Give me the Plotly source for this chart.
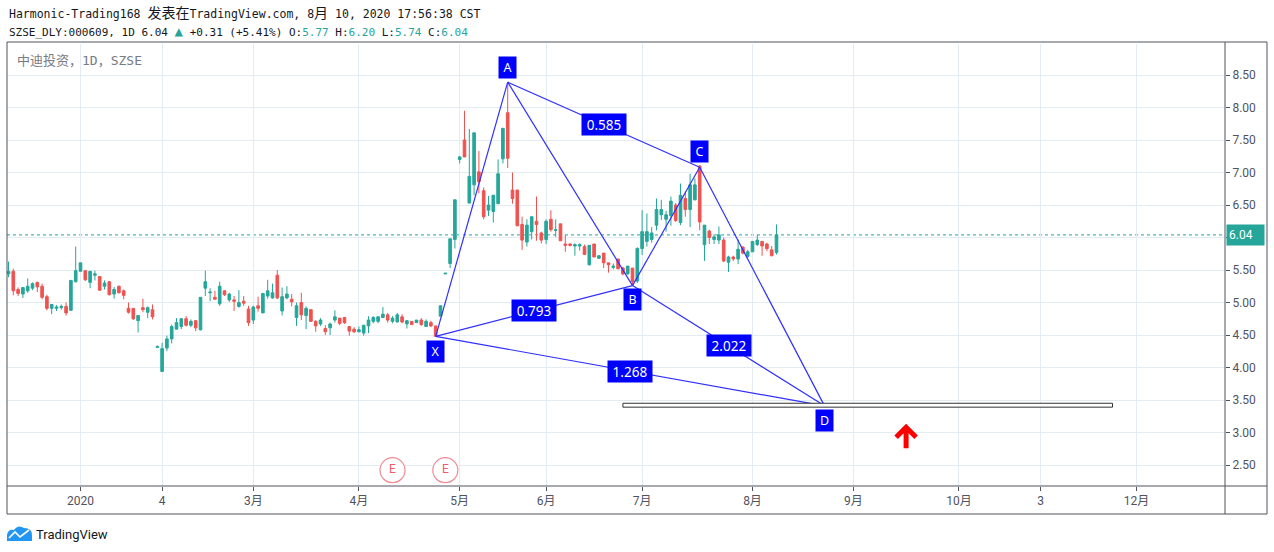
import plotly.graph_objects as go

# ---------------- data (bar index: 0 = first trading day of 2020) ----------------
bar_index = list(range(-15, 146))

opens = [5.44, 5.48, 5.20, 5.13, 5.18, 5.22, 5.31, 5.25, 5.09, 4.91, 4.91, 4.92, 4.94, 4.88, 5.32,
         5.48, 5.49, 5.31, 5.42, 5.40, 5.25, 5.32, 5.13, 5.25, 5.18, 4.91, 4.91, 4.72, 4.92, 4.85,
         4.89, 4.31, 3.94, 4.30, 4.44, 4.59, 4.63, 4.75, 4.65, 4.72, 4.58, 5.22, 5.15, 5.08, 4.98,
         5.18, 5.04, 5.04, 4.94, 5.02, 4.90, 4.73, 4.95, 4.84, 5.10, 5.07, 5.42, 4.87, 5.07, 5.05,
         4.77, 5.00, 4.80, 4.89, 4.71, 4.67, 4.60, 4.61, 4.73, 4.76, 4.77, 4.63, 4.59, 4.55, 4.53,
         4.64, 4.71, 4.71, 4.77, 4.81, 4.71, 4.70, 4.78, 4.67, 4.71, 4.69, 4.73, 4.63, 4.69, 4.64,
         4.79, 5.44, 5.60, 5.97, 7.20, 7.50, 6.53, 6.81, 7.01, 6.72, 6.42, 6.40, 6.52, 7.21, 7.92,
         6.73, 6.73, 6.20, 5.93, 6.09, 6.25, 6.07, 5.97, 6.28, 6.11, 6.21, 5.90, 5.90, 5.87, 5.87,
         5.86, 5.58, 5.90, 5.68, 5.76, 5.61, 5.54, 5.67, 5.53, 5.44, 5.53, 5.33, 5.83, 5.94, 5.97,
         6.19, 6.35, 6.28, 6.34, 6.50, 6.23, 6.60, 6.43, 6.58, 7.10, 5.89, 6.10, 5.97, 5.96, 5.96,
         5.62, 5.70, 5.67, 5.85, 5.71, 5.78, 5.89, 5.94, 5.90, 5.81, 5.77]
highs = [5.63, 5.52, 5.23, 5.23, 5.37, 5.31, 5.32, 5.29, 5.12, 4.97, 4.96, 4.97, 5.00, 5.34, 5.86,
         5.61, 5.49, 5.48, 5.49, 5.40, 5.34, 5.32, 5.24, 5.26, 5.20, 5.00, 4.91, 4.80, 5.06, 4.94,
         4.97, 4.34, 4.38, 4.49, 4.66, 4.76, 4.76, 4.79, 4.74, 4.73, 5.08, 5.49, 5.22, 5.18, 5.32,
         5.19, 5.15, 5.10, 5.19, 5.10, 4.95, 4.95, 5.09, 5.14, 5.35, 5.29, 5.50, 5.23, 5.25, 5.13,
         5.00, 5.15, 4.94, 4.89, 4.73, 4.76, 4.65, 4.69, 4.88, 4.76, 4.77, 4.64, 4.62, 4.63, 4.65,
         4.79, 4.79, 4.79, 4.93, 4.84, 4.79, 4.84, 4.82, 4.73, 4.71, 4.73, 4.76, 4.74, 4.72, 4.64,
         4.95, 5.45, 5.98, 6.58, 7.25, 7.95, 7.67, 7.61, 7.33, 6.77, 6.64, 6.65, 7.20, 7.68, 8.37,
         7.00, 6.73, 6.32, 6.28, 6.32, 6.63, 6.09, 6.28, 6.42, 6.28, 6.21, 6.04, 5.91, 5.91, 5.91,
         5.89, 5.88, 5.90, 5.73, 5.76, 5.61, 5.60, 5.67, 5.55, 5.56, 5.53, 5.85, 6.42, 6.37, 6.16,
         6.60, 6.58, 6.41, 6.63, 6.53, 6.83, 6.71, 6.98, 6.91, 7.11, 6.19, 6.12, 6.05, 6.17, 6.00,
         5.72, 5.72, 5.97, 5.87, 5.81, 5.94, 6.04, 5.94, 5.92, 5.87, 6.20]
lows = [5.39, 5.11, 5.10, 5.07, 5.15, 5.19, 5.16, 5.05, 4.88, 4.82, 4.87, 4.89, 4.80, 4.88, 5.31,
        5.48, 5.33, 5.22, 5.34, 5.18, 5.20, 5.11, 5.06, 5.14, 5.05, 4.83, 4.73, 4.54, 4.85, 4.76,
        4.74, 4.31, 3.94, 4.25, 4.37, 4.59, 4.59, 4.63, 4.62, 4.56, 4.57, 5.10, 5.02, 5.05, 4.95,
        5.10, 5.01, 4.87, 4.92, 4.95, 4.64, 4.67, 4.86, 4.84, 5.06, 5.06, 5.05, 4.80, 5.05, 4.94,
        4.64, 4.73, 4.59, 4.71, 4.55, 4.64, 4.50, 4.50, 4.69, 4.65, 4.67, 4.49, 4.53, 4.54, 4.49,
        4.53, 4.68, 4.68, 4.76, 4.69, 4.68, 4.70, 4.68, 4.60, 4.66, 4.69, 4.64, 4.63, 4.62, 4.47,
        4.79, 5.44, 5.53, 5.83, 7.14, 7.24, 6.53, 6.65, 6.68, 6.28, 6.33, 6.23, 6.52, 7.14, 7.07,
        6.52, 6.18, 5.81, 5.86, 5.97, 5.95, 5.91, 5.90, 6.09, 6.01, 5.95, 5.78, 5.86, 5.72, 5.80,
        5.73, 5.57, 5.70, 5.67, 5.53, 5.46, 5.51, 5.51, 5.42, 5.43, 5.27, 5.30, 5.73, 5.86, 5.92,
        6.11, 6.27, 6.09, 6.18, 6.24, 6.19, 6.32, 6.16, 6.57, 6.11, 5.64, 5.90, 5.90, 5.90, 5.62,
        5.47, 5.64, 5.59, 5.74, 5.68, 5.78, 5.87, 5.72, 5.79, 5.71, 5.74]
closes = [5.48, 5.18, 5.14, 5.23, 5.25, 5.29, 5.24, 5.08, 4.91, 4.97, 4.93, 4.94, 4.84, 5.34, 5.49,
          5.61, 5.35, 5.48, 5.44, 5.19, 5.30, 5.12, 5.20, 5.15, 5.11, 4.85, 4.75, 4.80, 4.89, 4.92,
          4.78, 4.32, 4.29, 4.44, 4.63, 4.69, 4.75, 4.65, 4.71, 4.61, 5.08, 5.32, 5.16, 5.05, 5.25,
          5.12, 5.13, 5.02, 5.00, 4.99, 4.69, 4.93, 4.91, 5.14, 5.18, 5.15, 5.07, 5.09, 5.13, 5.01,
          4.95, 4.81, 4.91, 4.71, 4.64, 4.73, 4.55, 4.67, 4.78, 4.68, 4.69, 4.56, 4.55, 4.58, 4.65,
          4.73, 4.77, 4.78, 4.82, 4.73, 4.76, 4.81, 4.70, 4.72, 4.66, 4.73, 4.66, 4.71, 4.64, 4.48,
          4.95, 5.45, 5.98, 6.58, 7.24, 7.24, 6.94, 7.61, 6.86, 6.32, 6.50, 6.65, 6.98, 7.68, 7.22,
          6.60, 6.18, 5.96, 6.19, 6.32, 6.20, 5.96, 6.25, 6.12, 6.12, 5.95, 5.88, 5.88, 5.89, 5.89,
          5.74, 5.88, 5.70, 5.72, 5.61, 5.58, 5.56, 5.52, 5.44, 5.56, 5.32, 5.83, 6.09, 6.09, 6.07,
          6.43, 6.43, 6.35, 6.56, 6.26, 6.65, 6.43, 6.81, 6.81, 6.24, 6.19, 6.00, 6.01, 6.04, 5.64,
          5.70, 5.67, 5.82, 5.76, 5.78, 5.94, 5.96, 5.87, 5.83, 5.72, 6.04]

last_price = 6.04

# axis ticks
x_tick_pos = [0, 17, 36, 58, 79, 97, 117, 140, 161, 183, 200, 220]
x_tick_text = ["2020", "4", "3月", "4月", "5月", "6月", "7月", "8月", "9月", "10月", "3", "12月"]
y_tick_vals = [2.5, 3.0, 3.5, 4.0, 4.5, 5.0, 5.5, 6.0, 6.5, 7.0, 7.5, 8.0, 8.5]

# harmonic pattern XABCD
pat_names = ["X", "A", "B", "C", "D"]
pat_idx = [74, 89, 115, 129, 155]
pat_price = [4.48, 8.39, 5.26, 7.08, 3.41]
pat_label_shift = [-15, 15, -14, 16, -15]
ratio_pairs = [("A", "C"), ("X", "B"), ("B", "D"), ("X", "D")]
ratio_values = ["0.585", "0.793", "2.022", "1.268"]

# target zone and signal
zone_start, zone_end = 113, 215
zone_low, zone_high = 3.39, 3.45
arrow_idx, arrow_price = 172, 3.08

# earnings markers
earn_idx = [65, 76]
earn_price = [2.42, 2.42]

# ---------------- figure ----------------
TEAL = "#26a69a"
RED = "#ef5350"
BLUE_LINE = "#3030ff"
BLUE_BOX = "#0000ff"
GRID = "#e3ecf3"
AXIS = "#50535e"

W, H = 1274, 552
ML, MR, MT, MB = 7, 49, 44, 66
PW, PH = W - ML - MR, H - MT - MB
BAR_PX, Y_PX = 4.8, 65.0   # pixel size of one bar / one price unit (for drawing offsets)


def px(x):
    return (x - ML) / PW


def py(y):
    return (H - MB - y) / PH


fig = go.Figure()

fig.add_trace(go.Candlestick(
    x=bar_index, open=opens, high=highs, low=lows, close=closes,
    increasing=dict(line=dict(color=TEAL, width=1), fillcolor=TEAL),
    decreasing=dict(line=dict(color=RED, width=1), fillcolor=RED),
    whiskerwidth=0, showlegend=False, hoverinfo="skip",
))

# pattern lines
pt = dict(zip(pat_names, zip(pat_idx, pat_price)))
seg_pairs = [("X", "A"), ("A", "B"), ("B", "C"), ("C", "D"),
             ("X", "B"), ("A", "C"), ("B", "D"), ("X", "D")]
lx, ly = [], []
for a, b in seg_pairs:
    lx += [pt[a][0], pt[b][0], None]
    ly += [pt[a][1], pt[b][1], None]
fig.add_trace(go.Scatter(x=lx, y=ly, mode="lines",
                         line=dict(color=BLUE_LINE, width=1.2),
                         showlegend=False, hoverinfo="skip"))

# earnings markers
fig.add_trace(go.Scatter(x=earn_idx, y=earn_price, mode="markers+text",
                         text=["E"] * len(earn_idx), textposition="middle center",
                         textfont=dict(color="#ef5a66", size=12, family="Roboto"),
                         marker=dict(symbol="circle", size=25, color="rgba(255,255,255,1)",
                                     line=dict(color="#f08a94", width=1.2)),
                         showlegend=False, hoverinfo="skip"))

shapes = []
# target zone rectangle
shapes.append(dict(type="rect", xref="x", yref="y", x0=zone_start, x1=zone_end,
                   y0=zone_low, y1=zone_high, line=dict(color="#333333", width=1),
                   fillcolor="white", layer="above"))
# red up arrow (chevron + stem) anchored at its tip
ax_, ay_ = arrow_idx, arrow_price
adx, ady, astem = 10 / BAR_PX, 10 / Y_PX, 21 / Y_PX
arrow_path = (f"M {ax_ - adx},{ay_ - ady} L {ax_},{ay_} L {ax_ + adx},{ay_ - ady} "
              f"M {ax_},{ay_ - 0.02} L {ax_},{ay_ - astem}")
shapes.append(dict(type="path", xref="x", yref="y", path=arrow_path,
                   line=dict(color="#ff0000", width=5), layer="above"))
# last price dotted line
shapes.append(dict(type="line", xref="paper", yref="y", x0=0, x1=1, y0=last_price, y1=last_price,
                   line=dict(color=TEAL, width=1, dash="dot"), layer="below"))
# chart frame
frame_right = px(1267)
frame_bottom = py(514)
frame_top = py(42)
shapes.append(dict(type="rect", xref="paper", yref="paper", x0=0, x1=frame_right,
                   y0=frame_bottom, y1=frame_top, line=dict(color=AXIS, width=1)))
shapes.append(dict(type="line", xref="paper", yref="paper", x0=1, x1=1,
                   y0=frame_bottom, y1=frame_top, line=dict(color=AXIS, width=1)))
shapes.append(dict(type="line", xref="paper", yref="paper", x0=0, x1=frame_right,
                   y0=0, y1=0, line=dict(color=AXIS, width=1)))
# TradingView logo icon (decorative cloud)
cloud = (f"M {px(7)},{py(541)} L {px(7)},{py(535)} Q {px(8)},{py(529)} {px(14)},{py(530)} "
         f"Q {px(18)},{py(524)} {px(24)},{py(528)} Q {px(32)},{py(528)} {px(32)},{py(535)} "
         f"L {px(32)},{py(541)} Z")
shapes.append(dict(type="path", xref="paper", yref="paper", path=cloud,
                   fillcolor="#2196f3", line=dict(width=0)))
zig = f"M {px(9)},{py(538)} L {px(15)},{py(532)} L {px(20)},{py(537)} L {px(29)},{py(530)}"
shapes.append(dict(type="path", xref="paper", yref="paper", path=zig,
                   line=dict(color="white", width=1.6)))

annotations = []
# point labels
for name, xi, yi, sh in zip(pat_names, pat_idx, pat_price, pat_label_shift):
    annotations.append(dict(x=xi, y=yi, xref="x", yref="y", text=name, showarrow=False,
                            yshift=sh, bgcolor=BLUE_BOX, font=dict(color="white", size=12.5, family="Noto Sans"),
                            width=14, height=18, borderpad=1.5, align="center"))
# ratio labels at segment midpoints
for (a, b), val in zip(ratio_pairs, ratio_values):
    mx = (pt[a][0] + pt[b][0]) / 2
    my = (pt[a][1] + pt[b][1]) / 2
    annotations.append(dict(x=mx, y=my, xref="x", yref="y", text=val, showarrow=False,
                            bgcolor=BLUE_BOX, font=dict(color="white", size=13.5, family="Noto Sans"),
                            width=41, height=18, borderpad=1.5, align="center"))
# last price tag (covers the 6.00 label as in the reference)
annotations.append(dict(x=1, y=last_price, xref="paper", yref="y", xanchor="left",
                        text="6.04", showarrow=False, bgcolor=TEAL, xshift=1,
                        font=dict(color="white", size=12, family="Roboto"),
                        width=33, height=16, borderpad=2, align="left"))
# header
mono = "DejaVu Sans Mono, Noto Sans CJK SC"
cjk = lambda s: f"<span style='font-size:14px'>{s}</span>"
annotations.append(dict(x=0, y=py(13), xref="paper", yref="paper", xanchor="left", yanchor="middle",
                        text=("Harmonic-Trading168 " + cjk("发表在") + "TradingView.com, 8" + cjk("月")
                              + " 10, 2020 17:56:38 CST"),
                        showarrow=False, font=dict(color="#131722", size=11.5, family=mono)))
v = lambda s: f"<span style='color:{TEAL}'>{s}</span>"
annotations.append(dict(x=0, y=py(31), xref="paper", yref="paper", xanchor="left", yanchor="middle",
                        text=("SZSE_DLY:000609, 1D 6.04 " + v("<span style='font-size:14px'>▲</span>")
                              + " +0.31 (+5.41%) O:" + v("5.77")
                              + " H:" + v("6.20") + " L:" + v("5.74") + " C:" + v("6.04")),
                        showarrow=False, font=dict(color="#131722", size=11, family=mono)))
annotations.append(dict(x=px(15), y=py(61), xref="paper", yref="paper", xanchor="left", yanchor="middle",
                        text="中迪投资，1D，SZSE", showarrow=False,
                        font=dict(color="#787b86", size=13, family=mono)))
annotations.append(dict(x=px(34), y=py(534), xref="paper", yref="paper", xanchor="left", yanchor="middle",
                        text="TradingView", showarrow=False,
                        font=dict(color="#131722", size=13, family="Roboto")))

fig.update_layout(
    width=W, height=H,
    margin=dict(l=ML, r=MR, t=MT, b=MB),
    paper_bgcolor="white", plot_bgcolor="white",
    showlegend=False, boxgap=0.22,
    xaxis=dict(range=[(ML - 80.5) / BAR_PX, (W - MR - 80.5) / BAR_PX],
               rangeslider=dict(visible=False), showgrid=True, gridcolor=GRID, gridwidth=1,
               tickmode="array", tickvals=x_tick_pos, ticktext=x_tick_text,
               ticks="outside", ticklen=4, tickcolor=AXIS, showline=False, zeroline=False,
               tickfont=dict(color=AXIS, size=12, family="Roboto, Noto Sans CJK SC"),
               fixedrange=True),
    yaxis=dict(range=[2.177, 8.977], side="right", showgrid=True, gridcolor=GRID, gridwidth=1,
               tickmode="array", tickvals=y_tick_vals,
               ticktext=["" if abs(t - last_price) < 0.1 else f"{t:.2f}" for t in y_tick_vals],
               ticks="outside", ticklen=4, tickcolor=AXIS, showline=False, zeroline=False,
               tickfont=dict(color=AXIS, size=12, family="Roboto"), fixedrange=True),
    shapes=shapes, annotations=annotations,
)

fig.write_html("out.html")
